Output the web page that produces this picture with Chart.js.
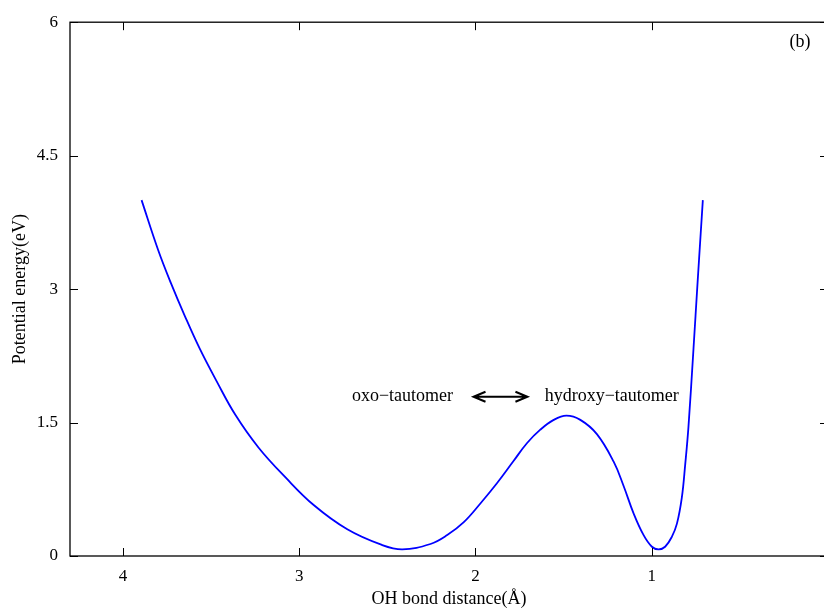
<!DOCTYPE html>
<html>
<head>
<meta charset="utf-8">
<script src="https://cdn.jsdelivr.net/npm/chart.js@4/dist/chart.umd.min.js"></script>
<style>
  html, body { margin: 0; padding: 0; background: #fff; overflow: hidden; }
  #wrap { width: 824px; height: 610px; overflow: hidden; position: relative; }
  #wrap canvas { position: absolute; left: 0; top: 0; }
</style>
</head>
<body>
<div id="wrap"><canvas id="pes" width="860" height="610"></canvas></div>
<script>
// OH bond distance (Angstrom) and potential energy (eV)
const distance = [3.894, 3.800, 3.728, 3.649, 3.564, 3.467, 3.363, 3.231, 3.076, 2.916,
                  2.727, 2.538, 2.415, 2.255, 2.160, 2.066, 1.972, 1.877, 1.783, 1.707,
                  1.632, 1.556, 1.484, 1.405, 1.311, 1.216, 1.160, 1.103, 1.046, 0.999,
                  0.961, 0.924, 0.886, 0.857, 0.829, 0.810, 0.792, 0.763, 0.740, 0.722, 0.710];
const energy = [4.00, 3.44, 3.07, 2.70, 2.33, 1.96, 1.59, 1.22, 0.88, 0.57,
                0.30, 0.13, 0.075, 0.135, 0.235, 0.38, 0.59, 0.82, 1.07, 1.27,
                1.42, 1.53, 1.577, 1.53, 1.37, 1.06, 0.79, 0.48, 0.234, 0.104,
                0.074, 0.104, 0.215, 0.364, 0.66, 1.03, 1.44, 2.33, 3.07, 3.63, 4.00];

const xTicks = [0, 1, 2, 3, 4];
const yTicks = [0, 1.5, 3, 4.5, 6];

const serif = '"Liberation Serif", "Times New Roman", serif';

// text labels placed in data coordinates
const notes = [
    { text: 'oxo\u2212tautomer', x: 2.414, y: 1.79 },
    { text: 'hydroxy\u2212tautomer', x: 1.227, y: 1.79 },
    { text: '(b)', x: 0.159, y: 5.78 }
];
const arrowFrom = 2.011, arrowTo = 1.705, arrowY = 1.79;

const points = distance.map((d, i) => ({ x: d, y: energy[i] }));

const frame = {
    id: 'frame',
    afterDatasetsDraw(chart) {
        const ctx = chart.ctx;
        const a = chart.chartArea;
        const xs = chart.scales.x, ys = chart.scales.y;
        const tl = 8;
        ctx.save();
        ctx.strokeStyle = '#000';
        ctx.lineWidth = 1.3;
        ctx.strokeRect(a.left, a.top, a.right - a.left, a.bottom - a.top);
        ctx.lineWidth = 1;
        ctx.beginPath();
        xTicks.forEach(v => {
            const px = Math.round(xs.getPixelForValue(v)) + 0.5;
            ctx.moveTo(px, a.bottom); ctx.lineTo(px, a.bottom - tl);
            ctx.moveTo(px, a.top); ctx.lineTo(px, a.top + tl);
        });
        yTicks.forEach(v => {
            const py = Math.round(ys.getPixelForValue(v)) + 0.5;
            ctx.moveTo(a.left, py); ctx.lineTo(a.left + tl, py);
            ctx.moveTo(a.right, py); ctx.lineTo(a.right - tl, py);
        });
        ctx.stroke();

        ctx.fillStyle = '#000';
        ctx.font = '18px ' + serif;
        ctx.textAlign = 'center';
        ctx.textBaseline = 'middle';
        notes.forEach(n => ctx.fillText(n.text, xs.getPixelForValue(n.x), ys.getPixelForValue(n.y)));

        // double headed arrow
        const x1 = xs.getPixelForValue(arrowFrom), x2 = xs.getPixelForValue(arrowTo);
        const y = ys.getPixelForValue(arrowY);
        ctx.lineWidth = 2;
        ctx.beginPath();
        ctx.moveTo(x1 + 2, y); ctx.lineTo(x2 - 2, y);
        ctx.moveTo(x1 + 12, y - 5); ctx.lineTo(x1, y); ctx.lineTo(x1 + 12, y + 5);
        ctx.moveTo(x2 - 12, y - 5); ctx.lineTo(x2, y); ctx.lineTo(x2 - 12, y + 5);
        ctx.stroke();
        ctx.restore();
    }
};

new Chart(document.getElementById('pes'), {
    type: 'scatter',
    data: {
        datasets: [{
            data: points,
            showLine: true,
            borderColor: '#0000ff',
            borderWidth: 1.8,
            pointRadius: 0,
            tension: 0.4,
            fill: false
        }]
    },
    options: {
        responsive: false,
        animation: false,
        layout: { padding: { top: 17, right: 32, left: 0, bottom: 0 } },
        plugins: { legend: { display: false }, tooltip: { enabled: false } },
        scales: {
            x: {
                type: 'linear',
                reverse: true,
                min: 0,
                max: 4.3,
                afterFit: s => { s.height = 54; },
                grid: { display: false, drawTicks: false },
                border: { display: false },
                ticks: {
                    stepSize: 1,
                    includeBounds: false,
                    padding: 10,
                    color: '#000',
                    font: { family: serif, size: 17 },
                    maxRotation: 0
                },
                title: {
                    display: true,
                    text: 'OH bond distance(\u00c5)',
                    color: '#000',
                    font: { family: serif, size: 18 },
                    padding: { top: 0, bottom: 0 }
                }
            },
            y: {
                min: 0,
                max: 6,
                afterFit: s => { s.width = 70; },
                grid: { display: false, drawTicks: false },
                border: { display: false },
                ticks: {
                    stepSize: 1.5,
                    padding: 12,
                    color: '#000',
                    font: { family: serif, size: 17 }
                },
                title: {
                    display: true,
                    text: 'Potential energy(eV)',
                    color: '#000',
                    font: { family: serif, size: 18 },
                    padding: { top: 9, bottom: 0 }
                }
            }
        }
    },
    plugins: [frame]
});
</script>
</body>
</html>
